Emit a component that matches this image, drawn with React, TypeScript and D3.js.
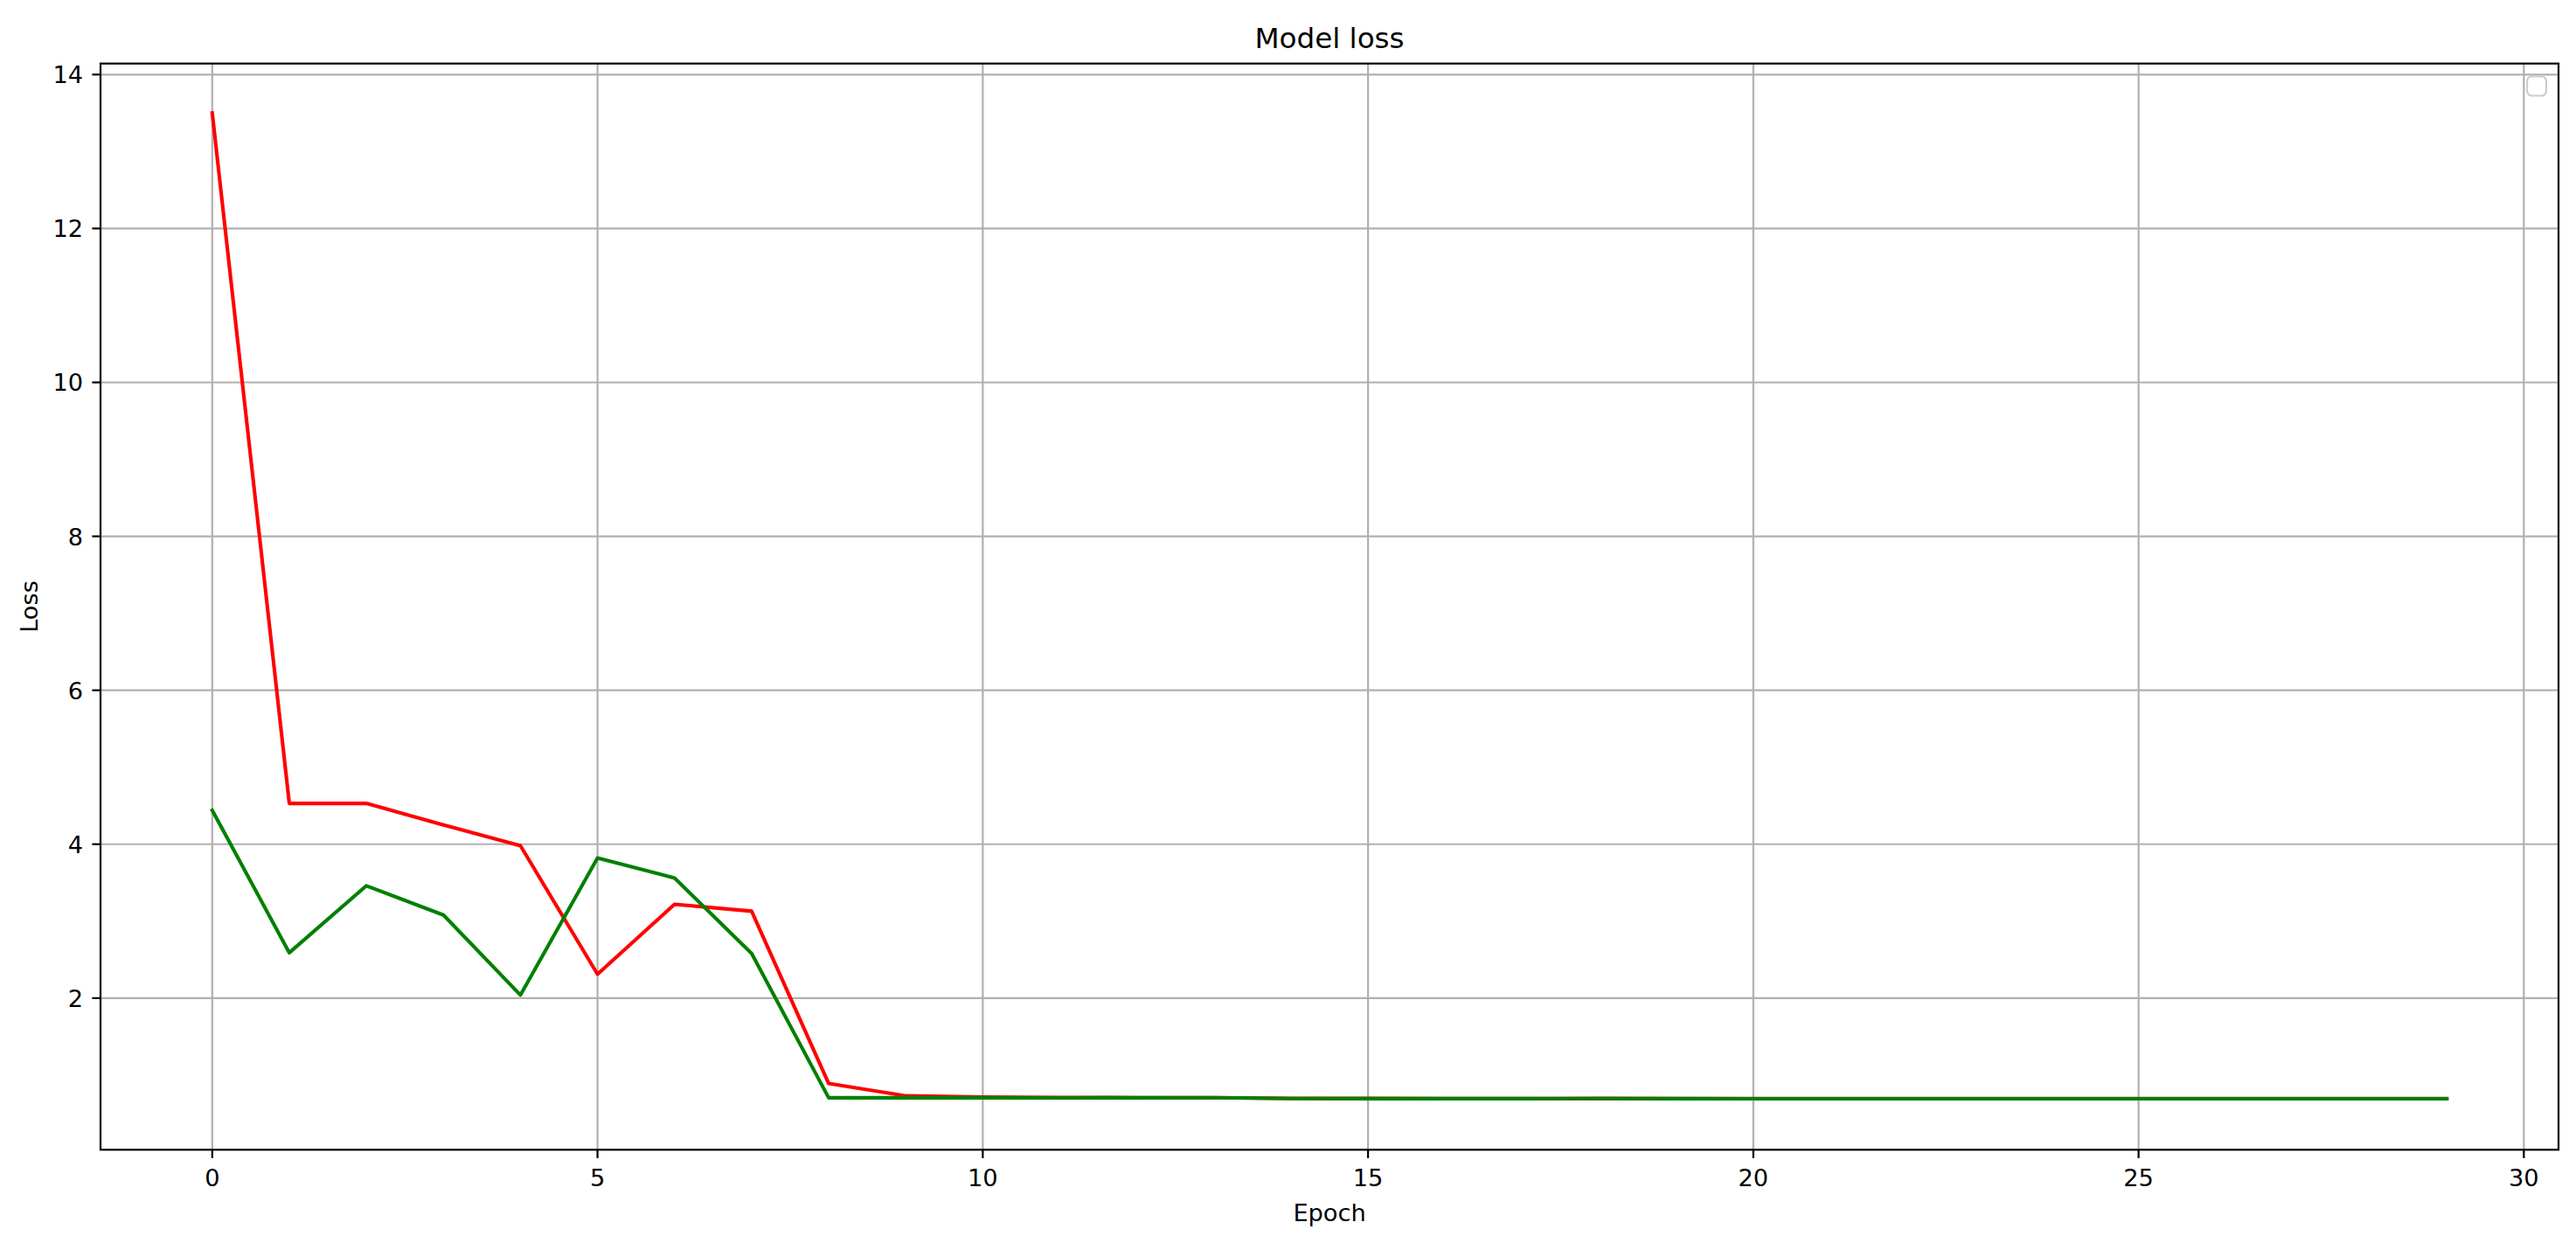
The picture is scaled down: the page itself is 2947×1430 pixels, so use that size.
import React from "react";
import * as d3 from "d3";

const epochs: number[] = Array.from({ length: 30 }, (_, i) => i);
const trainLoss: number[] = [
  13.5, 4.53, 4.53, 4.25, 3.98, 2.31, 3.22, 3.13, 0.89, 0.73,
  0.715, 0.71, 0.707, 0.706, 0.697, 0.696, 0.695, 0.695, 0.696, 0.695,
  0.694, 0.694, 0.694, 0.694, 0.694, 0.694, 0.694, 0.694, 0.694, 0.694,
];
const valLoss: number[] = [
  4.44, 2.59, 3.46, 3.08, 2.04, 3.82, 3.56, 2.58, 0.705, 0.705,
  0.705, 0.704, 0.705, 0.706, 0.695, 0.694, 0.694, 0.694, 0.695, 0.694,
  0.693, 0.693, 0.692, 0.692, 0.692, 0.692, 0.692, 0.692, 0.692, 0.692,
];
const xTicks: number[] = [0, 5, 10, 15, 20, 25, 30];
const yTicks: number[] = [2, 4, 6, 8, 10, 12, 14];
const titleText = "Model loss";
const xLabel = "Epoch";
const yLabel = "Loss";

const W = 2947;
const H = 1430;
const L = 115, R = 2927, T = 72.7, B = 1315.3;
const FONT = "DejaVu Sans";

export default function App() {
  const x = d3.scaleLinear().domain([-1.45, 30.45]).range([L, R]);
  const y = d3.scaleLinear().domain([0.03, 14.143]).range([B, T]);
  const line = d3
    .line<number>()
    .x((_, i) => x(epochs[i]))
    .y((d) => y(d));

  const gridColor = "#b0b0b0";
  return (
    <svg
      width={W}
      height={H}
      style={{ position: "absolute", left: 0, top: 0, display: "block", background: "#fff" }}
      fontFamily={FONT}
    >
      <rect x={0} y={0} width={W} height={H} fill="#fff" />
      {/* grid */}
      <g stroke={gridColor} strokeWidth={2.2}>
        {xTicks.map((t) => (
          <line key={"gx" + t} x1={x(t)} x2={x(t)} y1={T} y2={B} />
        ))}
        {yTicks.map((t) => (
          <line key={"gy" + t} x1={L} x2={R} y1={y(t)} y2={y(t)} />
        ))}
      </g>
      {/* lines */}
      <path d={line(trainLoss) || ""} fill="none" stroke="#ff0000" strokeWidth={4.1} strokeLinejoin="round" strokeLinecap="square" />
      <path d={line(valLoss) || ""} fill="none" stroke="#008000" strokeWidth={4.1} strokeLinejoin="round" strokeLinecap="square" />
      {/* spines */}
      <rect x={L} y={T} width={R - L} height={B - T} fill="none" stroke="#000" strokeWidth={2.2} />
      {/* x ticks */}
      <g>
        {xTicks.map((t) => (
          <g key={"xt" + t}>
            <line x1={x(t)} x2={x(t)} y1={B} y2={B + 9.6} stroke="#000" strokeWidth={2.2} />
            <text x={x(t)} y={1357} textAnchor="middle" fontSize={27.2} fill="#000">
              {t}
            </text>
          </g>
        ))}
      </g>
      {/* y ticks */}
      <g>
        {yTicks.map((t) => (
          <g key={"yt" + t}>
            <line x1={L - 9.6} x2={L} y1={y(t)} y2={y(t)} stroke="#000" strokeWidth={2.2} />
            <text x={95} y={y(t) + 10} textAnchor="end" fontSize={27.2} fill="#000">
              {t}
            </text>
          </g>
        ))}
      </g>
      {/* labels */}
      <text x={(L + R) / 2} y={55} textAnchor="middle" fontSize={32.6} fill="#000">
        {titleText}
      </text>
      <text x={(L + R) / 2} y={1397} textAnchor="middle" fontSize={27.2} fill="#000">
        {xLabel}
      </text>
      <text
        transform={`translate(42.5, ${(T + B) / 2}) rotate(-90)`}
        textAnchor="middle"
        fontSize={27.2}
        fill="#000"
      >
        {yLabel}
      </text>
      {/* empty legend */}
      <rect x={2891} y={87.5} width={22} height={22} rx={5.4} ry={5.4} fill="#fff" fillOpacity={0.8} stroke="#cccccc" strokeWidth={2.2} />
    </svg>
  );
}
